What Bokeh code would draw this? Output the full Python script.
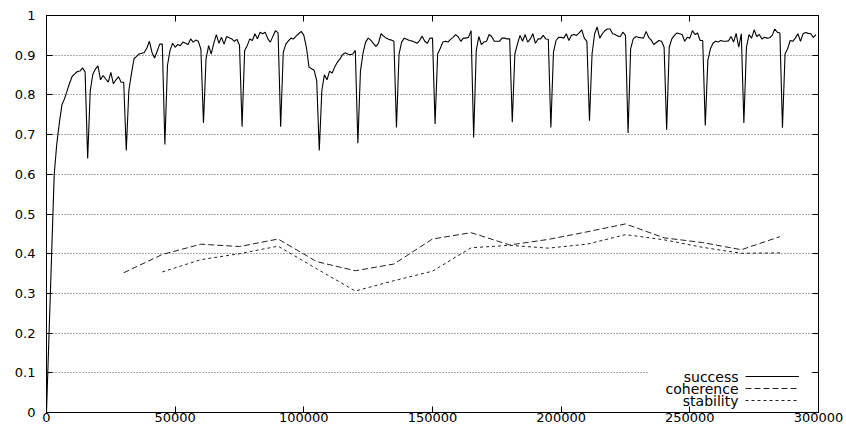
from bokeh.plotting import figure
from bokeh.models import (LinearAxis, FixedTicker, Label, Legend, LegendItem,
                          BoxAnnotation, Range1d, CustomLabelingPolicy)
from bokeh.embed import file_html
from bokeh.resources import INLINE

# ---------------- data ----------------
x_ticks = [0, 50000, 100000, 150000, 200000, 250000, 300000]
x_tick_labels = ["0", "50000", "100000", "150000", "200000", "250000", "300000"]
y_ticks = [0, 0.1, 0.2, 0.3, 0.4, 0.5, 0.6, 0.7, 0.8, 0.9, 1]
y_tick_labels = ["0", "0.1", "0.2", "0.3", "0.4", "0.5", "0.6", "0.7", "0.8", "0.9", "1"]

success_steps = [0] + list(range(3000, 300000, 1000))
success_values = [
    0.0, 0.60,
    0.677, 0.73, 0.775, 0.79, 0.81, 0.83, 0.847, 0.853, 0.859, 0.86, 0.868, 0.858, 0.64,
    0.81, 0.852, 0.865, 0.873, 0.838, 0.849, 0.84, 0.832, 0.857, 0.828, 0.838, 0.846, 0.832, 0.832, 0.66,
    0.811, 0.853, 0.891, 0.897, 0.903, 0.905, 0.907, 0.918, 0.935, 0.907, 0.893, 0.91, 0.928, 0.928, 0.675,
    0.874, 0.912, 0.93, 0.92, 0.927, 0.924, 0.933, 0.93, 0.927, 0.941, 0.933, 0.938, 0.935, 0.915, 0.729,
    0.891, 0.924, 0.903, 0.93, 0.952, 0.93, 0.945, 0.928, 0.947, 0.944, 0.941, 0.935, 0.94, 0.925, 0.72,
    0.912, 0.924, 0.941, 0.937, 0.954, 0.941, 0.958, 0.954, 0.958, 0.941, 0.933, 0.948, 0.962, 0.956, 0.72,
    0.907, 0.928, 0.936, 0.943, 0.941, 0.948, 0.954, 0.96, 0.95, 0.92, 0.87, 0.866, 0.862, 0.836, 0.66,
    0.811, 0.851, 0.838, 0.86, 0.855, 0.87, 0.882, 0.89, 0.901, 0.906, 0.903, 0.901, 0.903, 0.912, 0.678,
    0.86, 0.905, 0.933, 0.943, 0.938, 0.93, 0.922, 0.93, 0.954, 0.948, 0.943, 0.94, 0.938, 0.935, 0.718,
    0.903, 0.933, 0.943, 0.94, 0.937, 0.936, 0.933, 0.93, 0.937, 0.948, 0.935, 0.93, 0.943, 0.943, 0.727,
    0.903, 0.917, 0.933, 0.935, 0.933, 0.94, 0.945, 0.952, 0.946, 0.935, 0.943, 0.943, 0.945, 0.962, 0.693,
    0.912, 0.947, 0.927, 0.933, 0.935, 0.952, 0.947, 0.935, 0.935, 0.935, 0.943, 0.943, 0.941, 0.941, 0.731,
    0.903, 0.928, 0.95, 0.935, 0.952, 0.933, 0.941, 0.954, 0.93, 0.941, 0.941, 0.95, 0.941, 0.94, 0.718,
    0.907, 0.937, 0.945, 0.945, 0.943, 0.954, 0.937, 0.95, 0.952, 0.95, 0.956, 0.964, 0.943, 0.935, 0.735,
    0.903, 0.954, 0.971, 0.943, 0.954, 0.962, 0.966, 0.966, 0.954, 0.952, 0.948, 0.947, 0.958, 0.95, 0.704,
    0.916, 0.941, 0.947, 0.945, 0.944, 0.943, 0.96, 0.945, 0.938, 0.927, 0.932, 0.937, 0.935, 0.92, 0.712,
    0.92, 0.941, 0.95, 0.956, 0.954, 0.952, 0.935, 0.945, 0.943, 0.962, 0.952, 0.956, 0.937, 0.937, 0.723,
    0.887, 0.916, 0.93, 0.935, 0.933, 0.937, 0.935, 0.935, 0.936, 0.947, 0.933, 0.955, 0.92, 0.954, 0.729,
    0.92, 0.952, 0.943, 0.964, 0.947, 0.952, 0.941, 0.945, 0.943, 0.944, 0.95, 0.966, 0.958, 0.956, 0.717,
    0.903, 0.916, 0.937, 0.935, 0.943, 0.954, 0.935, 0.954, 0.957, 0.955, 0.954, 0.945, 0.952,
]
assert len(success_steps) == len(success_values)

coherence_steps = [30000, 45000, 60000, 75000, 90000, 105000, 120000, 135000, 150000,
                   165000, 180000, 195000, 210000, 225000, 240000, 255000, 270000, 285000]
coherence_values = [0.352, 0.398, 0.424, 0.418, 0.437, 0.380, 0.357, 0.374, 0.437,
                    0.453, 0.422, 0.436, 0.455, 0.475, 0.440, 0.428, 0.410, 0.443]

stability_steps = [45000, 60000, 75000, 90000, 105000, 120000, 135000, 150000,
                   165000, 180000, 195000, 210000, 225000, 240000, 255000, 270000, 285000]
stability_values = [0.354, 0.385, 0.400, 0.419, 0.362, 0.306, 0.332, 0.356,
                    0.415, 0.421, 0.414, 0.424, 0.448, 0.435, 0.416, 0.401, 0.402]

series_names = ["success", "coherence", "stability"]

# ---------------- figure ----------------
FONT = "DejaVu Sans"

p = figure(width=846, height=430,
           x_range=Range1d(0, 300000), y_range=Range1d(0, 1),
           output_backend="svg", toolbar_location=None,
           min_border_left=46, min_border_right=28,
           min_border_top=15, min_border_bottom=18)
p.background_fill_color = "white"
p.border_fill_color = "white"
p.outline_line_color = "black"

no_labels = CustomLabelingPolicy(code="""
for (const i of Array.from(indices)) { indices.unset(i) }
return indices
""")

def style_axis(ax, ticks, labels=None, standoff=0):
    ax.ticker = FixedTicker(ticks=ticks)
    ax.axis_line_color = "black"
    ax.axis_line_width = 1
    ax.major_tick_line_color = "black"
    ax.major_tick_in = 6
    ax.major_tick_out = 0
    ax.minor_tick_line_color = None
    ax.major_label_standoff = standoff
    if labels is None:
        ax.major_label_policy = no_labels
        ax.major_label_text_font_size = "1px"
    else:
        ax.major_label_overrides = dict(zip(ticks, labels))
        ax.major_label_text_font = FONT
        ax.major_label_text_font_size = "13px"
        ax.major_label_text_color = "black"

style_axis(p.xaxis[0], x_ticks, x_tick_labels, standoff=0)
style_axis(p.yaxis[0], y_ticks, y_tick_labels, standoff=11)

top_axis = LinearAxis()
style_axis(top_axis, x_ticks)
p.add_layout(top_axis, "above")
right_axis = LinearAxis()
style_axis(right_axis, y_ticks)
p.add_layout(right_axis, "right")

p.xgrid.visible = False
p.ygrid[0].ticker = FixedTicker(ticks=y_ticks[1:-1])
p.ygrid.grid_line_color = "#555555"
p.ygrid.grid_line_dash = "1 2"
p.ygrid.grid_line_width = 1

# white area behind the key
key_box = BoxAnnotation(left=602, right=764, bottom=1, top=47,
                        left_units="screen", right_units="screen",
                        bottom_units="screen", top_units="screen",
                        fill_color="white", fill_alpha=1.0, line_color=None,
                        level="underlay")
p.add_layout(key_box)

r_success = p.line(success_steps, success_values, line_color="black", line_width=1.1)
r_coh = p.line(coherence_steps, coherence_values, line_color="#222222",
               line_width=1, line_dash="6 3")
r_stab = p.line(stability_steps, stability_values, line_color="#222222",
                line_width=1, line_dash="3 3")

legend = Legend(items=[LegendItem(label=" ", renderers=[r]) for r in (r_success, r_coh, r_stab)],
                location=(699, 6), glyph_width=54, glyph_height=12, label_height=12,
                label_width=0, label_standoff=0, spacing=0, padding=0, margin=0,
                background_fill_alpha=0, border_line_color=None,
                label_text_font_size="1px")
p.add_layout(legend)

for name, yy in zip(series_names, [36, 24, 12]):
    p.add_layout(Label(x=692, y=yy, x_units="screen", y_units="screen", text=name,
                       text_align="right", text_baseline="middle",
                       text_font=FONT, text_font_size="14px", text_color="black"))

open("out.html", "w").write(file_html(p, INLINE))
